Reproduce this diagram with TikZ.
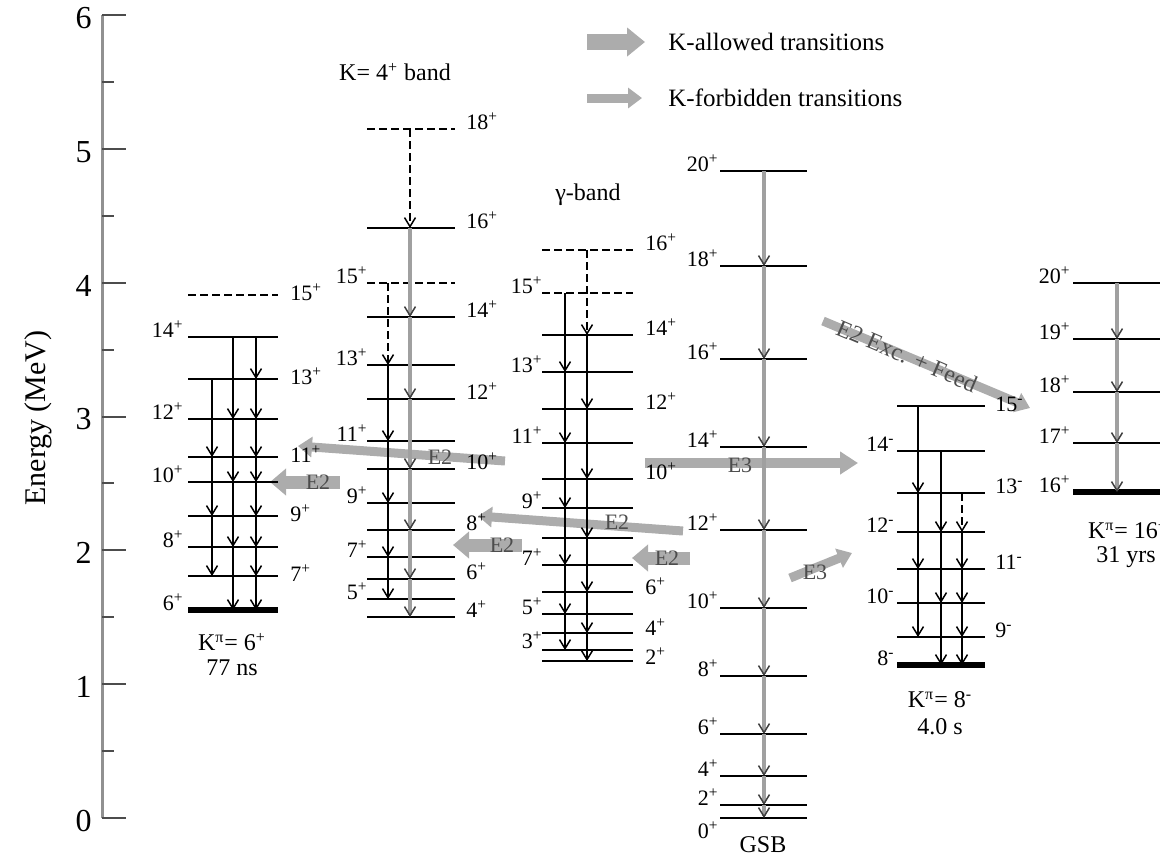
\documentclass[tikz,border=0pt]{standalone}
\usepackage{fontspec}
\setmainfont{Liberation Serif}
\usetikzlibrary{arrows.meta}
\definecolor{agray}{RGB}{172,172,172}
\definecolor{tgray}{RGB}{160,160,160}
\definecolor{axgray}{RGB}{145,145,145}
\newcommand{\levfont}{\fontsize{11}{13}\selectfont}
\newcommand{\pl}[1]{#1\textsuperscript{+}}
\newcommand{\mi}[1]{#1\textsuperscript{-}}
\begin{document}
\begin{tikzpicture}[x=0.5pt,y=-0.5pt,
  lev/.style={line width=1pt},
  levd/.style={line width=0.9pt, dash pattern=on 4pt off 2pt},
  gnd/.style={line width=3pt},
  tr/.style={line width=0.75pt, -{Straight Barb[length=4.5pt,width=5.5pt]}},
  trd/.style={tr, dash pattern=on 4pt off 2pt},
  trg/.style={line width=2pt, draw=tgray, -{Straight Barb[length=4.5pt,width=5.5pt,line width=0.75pt,color=black!75]}},
  ll/.style={font=\levfont, anchor=base east, inner sep=0pt},
  rl/.style={font=\levfont, anchor=base west, inner sep=0pt},
  aa/.style={draw=agray, line width=6.5pt, -{Triangle[length=8pt,width=13pt]}},
  fa/.style={draw=agray, line width=4.5pt, -{Triangle[length=7pt,width=10pt]}},
  el/.style={font=\fontsize{11}{13}\selectfont, text=black!70, inner sep=0pt},
  ttl/.style={font=\fontsize{12}{14}\selectfont, inner sep=0pt, align=center},
  lgd/.style={font=\fontsize{12.5}{14}\selectfont, inner sep=0pt, anchor=west},
]
\useasboundingbox (0,0) rectangle (1160,858);

% ---------- axis ----------
\draw[axgray, line width=1.5pt] (102,15) -- (102,818);
\foreach \i in {0,...,6} {
  \draw[black!70, line width=1pt] (102,{818-133.83*\i}) -- (126,{818-133.83*\i});
  \node[font=\fontsize{16}{18}\selectfont, anchor=east, inner sep=0pt] (ax\i) at (92,{821-133.83*\i}) {\i};
}
\foreach \i in {0.5,1.5,2.5,3.5,4.5,5.5}
  \draw[black!70, line width=1pt] (102,{818-133.83*\i}) -- (114,{818-133.83*\i});
\node[rotate=90, font=\fontsize{15}{17}\selectfont] (axlab) at (38,418) {Energy (MeV)};

% ---------- interband arrows (under everything) ----------
\draw[fa] (505,461) -- (298,446);
\draw[aa] (340,482) -- (270,482);
\draw[fa] (683,531) -- (478,516);
\draw[aa] (522,545) -- (453,545);
\draw[aa] (690,558) -- (632,558);
\draw[draw=agray, line width=5pt, -{Triangle[length=9pt,width=11pt]}] (645,463) -- (858,463);
\draw[fa] (790,578) -- (852,553);
\draw[fa] (823,321) -- (1030,408);

% ---------- legend ----------
\draw[draw=agray, line width=8pt, -{Triangle[length=9pt,width=14pt]}] (587,42) -- (645,42);
\node[lgd] (lg1) at (668,42) {K-allowed transitions};
\draw[fa] (587,98) -- (642,98);
\node[lgd] (lg2) at (668,98) {K-forbidden transitions};

% ---------- band 1: K=6+ ----------
\foreach \y in {337,379,419,457,482,516,547,576} \draw[lev] (188,\y) -- (278,\y);
\draw[levd] (188,295) -- (278,295);
\draw[gnd] (188,610) -- (278,610);
\foreach \y/\j in {337/14,419/12,482/10,547/8,610/6} \node[ll] (a\j) at (184,\y) {\pl{\j}};
\foreach \y/\j in {295/15,379/13,457/11,516/9,576/7} \node[rl] (a\j) at (290,{\y+5}) {\pl{\j}};
\foreach \a/\b in {379/457,457/516,516/576} \draw[tr] (212,\a) -- (212,\b);
\foreach \a/\b in {337/419,419/482,482/547,547/610} \draw[tr] (233,\a) -- (233,\b);
\foreach \a/\b in {337/379,379/419,419/457,457/482,482/516,516/547,547/576,576/610} \draw[tr] (256,\a) -- (256,\b);
\node[ttl] (k6) at (232,642) {K\textsuperscript{π}= 6\textsuperscript{+}};
\node[ttl] (t6) at (232,668) {77 ns};

% ---------- band 2: K=4+ ----------
\foreach \y in {228,317,365,399,441,469,503,530,557,579,599,617} \draw[lev] (367,\y) -- (455,\y);
\draw[levd] (367,129) -- (455,129);
\draw[levd] (367,283) -- (455,283);
\foreach \y/\j in {283/15,365/13,441/11,503/9,557/7,599/5} \node[ll] (b\j) at (368,\y) {\pl{\j}};
\foreach \y/\j in {129/18,228/16,317/14,399/12,469/10,530/8,579/6,617/4} \node[rl] (b\j) at (466,\y) {\pl{\j}};
\draw[trd] (388,283) -- (388,365);
\foreach \a/\b in {365/441,441/503,503/557,557/599} \draw[tr] (388,\a) -- (388,\b);
\draw[trd] (410,129) -- (410,228);
\foreach \a/\b in {228/317,317/399,399/469,469/530,530/579,579/617} \draw[trg] (410,\a) -- (410,\b);
\node[ttl] (k4) at (395,72) {K= 4\textsuperscript{+} band};

% ---------- band 3: gamma ----------
\foreach \y in {335,372,409,443,479,508,538,565,592,614,633,650,661} \draw[lev] (542,\y) -- (633,\y);
\draw[levd] (542,250) -- (633,250);
\draw[levd] (542,293) -- (633,293);
\foreach \y/\j in {293/15,372/13,443/11,508/9,565/7,614/5,648/3} \node[ll] (c\j) at (543,\y) {\pl{\j}};
\foreach \y/\j in {250/16,335/14,409/12,479/10,594/6,635/4,664/2} \node[rl] (c\j) at (645,\y) {\pl{\j}};
\foreach \a/\b in {293/372,372/443,443/508,508/565,565/614,614/650} \draw[tr] (565,\a) -- (565,\b);
\draw[trd] (587,250) -- (587,335);
\foreach \a/\b in {335/409,409/479,479/538,538/592,592/633,633/661} \draw[tr] (587,\a) -- (587,\b);
\node[ttl] (gb) at (588,195) {γ-band};

% ---------- GSB ----------
\foreach \y in {171,266,359,447,530,608,676,734,776,805,818} \draw[lev] (720,\y) -- (807,\y);
\foreach \y/\j in {171/20,266/18,359/16,447/14,530/12,608/10,676/8,734/6,776/4,805/2} \node[ll] (g\j) at (719,\y) {\pl{\j}};
\node[ll] (g0) at (719,838) {\pl{0}};
\foreach \a/\b in {171/266,266/359,359/447,447/530,530/608,608/676,676/734,734/776,776/805,805/818} \draw[trg] (764,\a) -- (764,\b);
\node[ttl] (gsb) at (763,845) {GSB};

% ---------- K=8- ----------
\foreach \y in {406,451,493,532,569,603,637} \draw[lev] (897,\y) -- (985,\y);
\draw[gnd] (897,665) -- (985,665);
\foreach \y/\j in {451/14,532/12,603/10,665/8} \node[ll] (d\j) at (895,\y) {\mi{\j}};
\foreach \y/\j in {411/15,493/13,569/11,637/9} \node[rl] (d\j) at (995,\y) {\mi{\j}};
\foreach \a/\b in {406/493,493/569,569/637} \draw[tr] (918,\a) -- (918,\b);
\foreach \a/\b in {451/532,532/603,603/665} \draw[tr] (941,\a) -- (941,\b);
\draw[trd] (962,493) -- (962,532);
\foreach \a/\b in {532/569,569/603,603/637,637/665} \draw[tr] (962,\a) -- (962,\b);
\node[ttl] (k8) at (940,700) {K\textsuperscript{π}= 8\textsuperscript{-}};
\node[ttl] (t8) at (940,727) {4.0 s};

% ---------- K=16+ ----------
\foreach \y in {283,339,392,443} \draw[lev] (1073,\y) -- (1160,\y);
\draw[gnd] (1073,492) -- (1160,492);
\foreach \y/\j in {283/20,339/19,392/18,443/17,492/16} \node[ll] (e\j) at (1071,\y) {\pl{\j}};
\foreach \a/\b in {283/339,339/392,392/443,443/492} \draw[trg] (1117,\a) -- (1117,\b);
\node[ttl] (k16) at (1128,530) {K\textsuperscript{π}= 16\textsuperscript{+}};
\node[ttl] (t16) at (1126,557) {31 yrs};

% ---------- arrow labels ----------
\node[el] (e1) at (440,457) {E2};
\node[el] (e2) at (318,482) {E2};
\node[el] (e3) at (617,522) {E2};
\node[el] (e4) at (502,545) {E2};
\node[el] (e5) at (667,558) {E2};
\node[el] (e6) at (740,465) {E3};
\node[el] (e7) at (815,572) {E3};
\node[el, rotate=-23, font=\fontsize{12}{14}\selectfont] (e8) at (907,356) {E2 Exc. + Feed};
\end{tikzpicture}
\end{document}
